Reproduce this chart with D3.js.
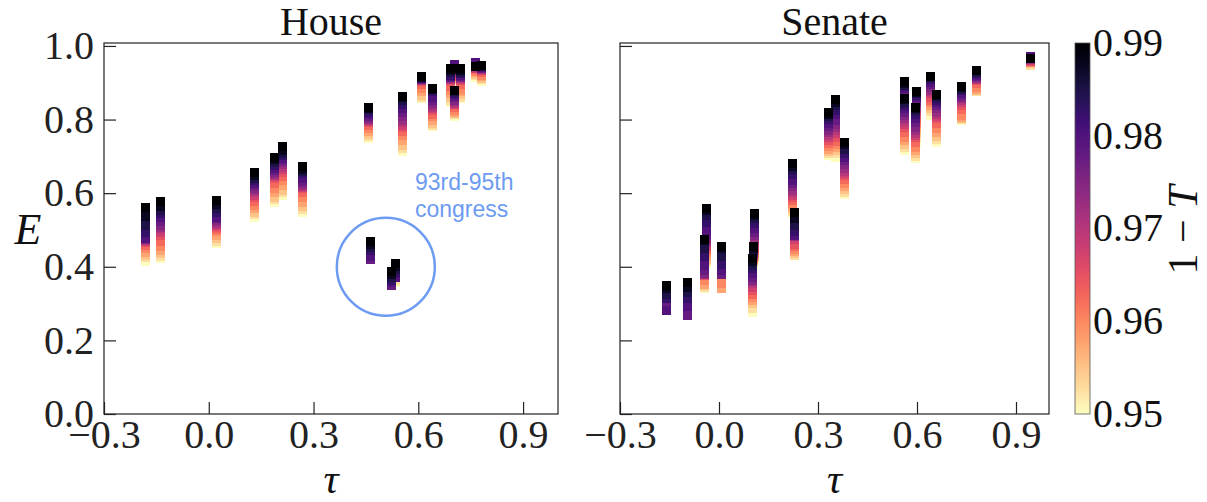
<!DOCTYPE html>
<html><head><meta charset="utf-8">
<script src="https://cdn.jsdelivr.net/npm/d3@7"></script>
<style>body{margin:0;background:#fff}</style>
</head><body>
<svg id="c" width="1207" height="502"></svg>
<script>
// 1 - T levels (colour), bottom to top
const levels = [0.95,0.9525,0.955,0.9575,0.96,0.9625,0.965,0.9675,0.97,0.9725,0.975,0.9775,0.98,0.9825,0.985,0.9875,0.99];
const xTicks = [-0.3,0.0,0.3,0.6,0.9];
const yTicks = [0.0,0.2,0.4,0.6,0.8,1.0];
const cbTicks = [0.95,0.96,0.97,0.98,0.99];

// House: tau per congress, E per level
const houseTau = [-0.18,-0.138,0.023,0.132,0.187,0.212,0.269,0.456,0.554,0.610,0.641,0.693,0.722,0.705,0.703,0.765,0.780,0.464,0.536,0.524];
const houseE = [
[0.415,0.424,0.432,0.440,0.450,0.459,0.467,0.470,0.472,0.473,0.474,0.476,0.478,0.492,0.512,0.536,0.560],
[0.422,0.429,0.435,0.444,0.454,0.470,0.485,0.492,0.500,0.506,0.512,0.524,0.535,0.544,0.553,0.565,0.577],
[0.463,0.469,0.476,0.486,0.496,0.501,0.508,0.512,0.516,0.520,0.526,0.530,0.535,0.548,0.557,0.568,0.580],
[0.535,0.541,0.548,0.557,0.567,0.577,0.589,0.595,0.601,0.607,0.614,0.621,0.626,0.635,0.640,0.648,0.655],
[0.576,0.582,0.589,0.601,0.612,0.626,0.639,0.644,0.648,0.652,0.657,0.662,0.666,0.675,0.682,0.691,0.696],
[0.594,0.601,0.607,0.621,0.635,0.645,0.657,0.664,0.671,0.678,0.684,0.689,0.694,0.702,0.707,0.715,0.726],
[0.548,0.556,0.564,0.576,0.589,0.601,0.612,0.615,0.618,0.622,0.627,0.633,0.639,0.653,0.658,0.664,0.672],
[0.748,0.753,0.760,0.768,0.775,0.784,0.793,0.795,0.797,0.800,0.804,0.808,0.813,0.820,0.826,0.829,0.832],
[0.714,0.722,0.730,0.743,0.757,0.768,0.779,0.785,0.791,0.798,0.807,0.818,0.829,0.841,0.852,0.861,0.862],
[0.858,0.861,0.866,0.875,0.884,0.894,0.904,0.905,0.906,0.908,0.909,0.910,0.911,0.912,0.913,0.914,0.916],
[0.781,0.785,0.790,0.798,0.807,0.815,0.825,0.829,0.833,0.838,0.843,0.852,0.861,0.875,0.881,0.882,0.884],
[0.847,0.853,0.860,0.870,0.880,0.891,0.904,0.908,0.910,0.912,0.913,0.914,0.917,0.921,0.927,0.932,0.938],
[0.857,0.861,0.867,0.875,0.883,0.894,0.905,0.909,0.912,0.913,0.914,0.917,0.920,0.924,0.928,0.933,0.939],
[0.905,0.908,0.910,0.913,0.916,0.918,0.921,0.924,0.927,0.929,0.935,0.940,0.949,0.936,0.935,0.936,0.9375],
[0.809,0.813,0.816,0.819,0.825,0.833,0.840,0.842,0.844,0.848,0.852,0.859,0.866,0.871,0.876,0.879,0.880],
[0.915,0.919,0.923,0.927,0.931,0.935,0.939,0.940,0.942,0.943,0.944,0.948,0.954,0.944,0.943,0.943,0.943],
[0.904,0.908,0.911,0.916,0.920,0.927,0.932,0.934,0.936,0.938,0.939,0.940,0.942,0.943,0.944,0.946,0.947],
[0.427,0.427,0.427,0.427,0.427,0.427,0.427,0.427,0.427,0.427,0.427,0.419,0.429,0.443,0.452,0.461,0.470],
[0.358,0.364,0.375,0.375,0.375,0.375,0.375,0.375,0.375,0.375,0.375,0.375,0.372,0.385,0.393,0.401,0.408],
[0.359,0.359,0.359,0.359,0.359,0.359,0.359,0.359,0.359,0.359,0.359,0.349,0.356,0.363,0.372,0.380,0.388]
];

// Senate
const senateTau = [-0.158,-0.095,-0.038,-0.044,0.007,0.107,0.106,0.101,0.223,0.229,0.332,0.353,0.380,0.563,0.561,0.598,0.594,0.642,0.658,0.734,0.780,0.945];
const senateE = [
[0.296,0.296,0.296,0.296,0.296,0.296,0.296,0.296,0.296,0.296,0.296,0.296,0.281,0.313,0.326,0.340,0.350],
[0.283,0.283,0.283,0.283,0.283,0.283,0.283,0.283,0.283,0.283,0.283,0.268,0.291,0.313,0.329,0.344,0.357],
[0.408,0.414,0.421,0.429,0.440,0.447,0.454,0.459,0.465,0.470,0.476,0.486,0.499,0.521,0.538,0.553,0.558],
[0.340,0.344,0.348,0.353,0.364,0.375,0.376,0.378,0.379,0.380,0.381,0.391,0.404,0.428,0.451,0.472,0.474],
[0.355,0.355,0.355,0.342,0.355,0.386,0.386,0.386,0.386,0.386,0.386,0.378,0.389,0.406,0.429,0.449,0.454],
[0.422,0.424,0.428,0.433,0.439,0.444,0.451,0.459,0.467,0.476,0.484,0.494,0.505,0.517,0.530,0.539,0.544],
[0.410,0.413,0.416,0.418,0.421,0.424,0.427,0.429,0.432,0.435,0.438,0.440,0.443,0.446,0.448,0.451,0.454],
[0.277,0.288,0.300,0.308,0.317,0.326,0.336,0.345,0.355,0.359,0.364,0.371,0.383,0.395,0.404,0.413,0.423],
[0.546,0.550,0.556,0.563,0.571,0.579,0.587,0.594,0.601,0.607,0.617,0.625,0.635,0.650,0.664,0.673,0.681],
[0.431,0.432,0.436,0.442,0.448,0.454,0.460,0.473,0.481,0.482,0.484,0.485,0.486,0.495,0.511,0.530,0.548],
[0.702,0.708,0.713,0.720,0.727,0.734,0.743,0.750,0.757,0.764,0.770,0.780,0.789,0.800,0.808,0.815,0.820],
[0.698,0.707,0.716,0.725,0.731,0.741,0.751,0.761,0.770,0.779,0.787,0.798,0.813,0.825,0.838,0.847,0.855],
[0.597,0.602,0.609,0.617,0.626,0.637,0.648,0.654,0.659,0.667,0.678,0.689,0.698,0.708,0.720,0.732,0.737],
[0.804,0.813,0.821,0.829,0.837,0.845,0.853,0.861,0.867,0.872,0.878,0.881,0.885,0.889,0.893,0.897,0.903],
[0.716,0.724,0.732,0.742,0.752,0.766,0.779,0.787,0.795,0.802,0.811,0.820,0.829,0.838,0.845,0.854,0.857],
[0.739,0.750,0.764,0.777,0.788,0.799,0.810,0.821,0.829,0.837,0.845,0.853,0.859,0.866,0.870,0.874,0.877],
[0.694,0.700,0.707,0.715,0.725,0.739,0.752,0.757,0.762,0.769,0.779,0.791,0.802,0.814,0.825,0.830,0.834],
[0.811,0.821,0.829,0.837,0.845,0.853,0.861,0.870,0.875,0.880,0.887,0.894,0.902,0.908,0.913,0.917,0.918],
[0.739,0.746,0.754,0.764,0.775,0.789,0.802,0.808,0.814,0.820,0.830,0.838,0.845,0.852,0.859,0.866,0.868],
[0.798,0.800,0.802,0.806,0.811,0.826,0.838,0.845,0.852,0.857,0.861,0.866,0.872,0.879,0.883,0.888,0.889],
[0.875,0.876,0.879,0.883,0.888,0.897,0.906,0.908,0.909,0.912,0.914,0.917,0.920,0.925,0.929,0.932,0.934],
[0.947,0.948,0.951,0.954,0.956,0.958,0.959,0.961,0.962,0.963,0.965,0.965,0.971,0.965,0.965,0.965,0.965]
];

const annotLines = ["93rd-95th","congress"];
const circleCenter = [0.507, 0.40];

const svg = d3.select('#c');
const TOP = 43, BOTTOM = 414, MS = 9;
const SERIF = "'Liberation Serif','DejaVu Serif',serif";
const INK = '#222';
const BLUE = '#6d9bf1';
const cNorm = d3.scaleLinear().domain([0.95,0.99]).range([1,0]);
const colour = v => d3.interpolateMagma(cNorm(v));
const y = d3.scaleLinear().domain([0,1.008]).range([BOTTOM,TOP]);

const panels = [
  {title:'House', x0:104, x1:558, tau:houseTau, E:houseE, labels:true},
  {title:'Senate', x0:620, x1:1049, tau:senateTau, E:senateE, labels:false}
];

panels.forEach((p, pi) => {
  const x = d3.scaleLinear().domain([-0.3,1.0]).range([p.x0,p.x1]);
  p.x = x;
  const g = svg.append('g');
  levels.forEach((lv, li) => {
    g.append('g').attr('shape-rendering','crispEdges').selectAll('rect').data(p.tau).join('rect')
      .attr('x', t => x(t) - MS/2)
      .attr('y', (t, i) => y(p.E[i][li]) - MS/2)
      .attr('width', MS).attr('height', MS)
      .attr('fill', colour(lv));
  });
  // frame
  g.append('rect').attr('x',p.x0).attr('y',TOP).attr('width',p.x1-p.x0).attr('height',BOTTOM-TOP)
    .attr('fill','none').attr('stroke',INK).attr('stroke-width',1.2);
  // y axis
  const ay = d3.axisLeft(y).tickValues(yTicks).tickSize(-12).tickSizeOuter(0).tickPadding(10)
    .tickFormat(p.labels ? d3.format('.1f') : () => '');
  g.append('g').attr('transform',`translate(${p.x0},0)`).call(ay)
    .call(s => s.select('.domain').remove())
    .attr('font-family',SERIF).attr('font-size',40).attr('color',INK)
    .call(s => s.selectAll('line').attr('stroke-width',1.2));
  // x axis
  const ax = d3.axisBottom(x).tickValues(xTicks).tickSize(-12).tickSizeOuter(0).tickPadding(6)
    .tickFormat(d3.format('.1f'));
  g.append('g').attr('transform',`translate(0,${BOTTOM})`).call(ax)
    .call(s => s.select('.domain').remove())
    .attr('font-family',SERIF).attr('font-size',40).attr('color',INK)
    .call(s => s.selectAll('line').attr('stroke-width',1.2));
  // title
  svg.append('text').attr('x',(p.x0+p.x1)/2).attr('y',35).attr('text-anchor','middle')
    .attr('font-family',SERIF).attr('font-size',40).attr('fill','#111').text(p.title);
  // tau label
  svg.append('text').attr('x',(p.x0+p.x1)/2).attr('y',493).attr('text-anchor','middle')
    .attr('font-family',SERIF).attr('font-style','italic').attr('font-size',42).attr('fill','#111').text('τ');
});

// E label
svg.append('text').attr('x',28).attr('y',244).attr('text-anchor','middle')
  .attr('font-family',SERIF).attr('font-style','italic').attr('font-size',44).attr('fill','#111').text('E');

// annotation
const hx = panels[0].x;
svg.append('circle').attr('cx',hx(circleCenter[0])).attr('cy',y(circleCenter[1])).attr('r',49)
  .attr('fill','none').attr('stroke',BLUE).attr('stroke-width',2.5);
svg.append('g').selectAll('text').data(annotLines).join('text')
  .attr('x',415).attr('y',(d,i)=>190 + i*26.7)
  .attr('font-family',"'Liberation Sans',Arial,sans-serif").attr('font-size',23).attr('fill',BLUE)
  .text(d=>d);

// colorbar
const cbX = 1075, cbW = 15;
const cbY = d3.scaleLinear().domain([0.95,0.99]).range([BOTTOM,TOP]);
const defs = svg.append('defs');
const grad = defs.append('linearGradient').attr('id','cbg').attr('x1',0).attr('y1',0).attr('x2',0).attr('y2',1);
grad.selectAll('stop').data(d3.range(0,41)).join('stop')
  .attr('offset',d=>d/40).attr('stop-color',d=>d3.interpolateMagma(d/40));
svg.append('rect').attr('x',cbX).attr('y',TOP).attr('width',cbW).attr('height',BOTTOM-TOP)
  .attr('fill','url(#cbg)').attr('stroke','#555').attr('stroke-width',0.8);
svg.append('g').selectAll('text').data(cbTicks).join('text')
  .attr('x',cbX+cbW+3).attr('y',d=>cbY(d)).attr('dy','0.32em')
  .attr('font-family',SERIF).attr('font-size',40).attr('fill','#111')
  .text(d=>d3.format('.2f')(d));
const cl = svg.append('text').attr('transform',`translate(1197,230) rotate(-90)`).attr('text-anchor','middle')
  .attr('font-family',SERIF).attr('font-size',42).attr('fill','#111');
cl.append('tspan').text('1 − ');
cl.append('tspan').attr('font-style','italic').text('T');
</script>
</body></html>
